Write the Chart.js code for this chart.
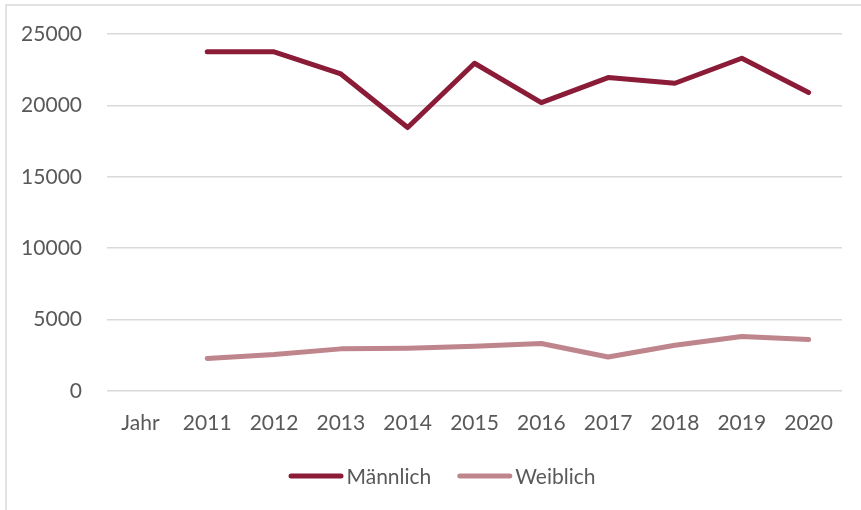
<!DOCTYPE html>
<html>
<head>
<meta charset="utf-8">
<script src="https://cdn.jsdelivr.net/npm/chart.js@4.4.0/dist/chart.umd.min.js"></script>
<style>
  html, body { margin: 0; padding: 0; background: #fff; }
  #wrap { width: 861px; height: 510px; position: relative; }
</style>
</head>
<body>
<div id="wrap"><canvas id="myChart" width="861" height="510"></canvas></div>
<script>
// Kategorien (erste Spalte ist die Kopfzeile "Jahr", ohne Werte)
const labels = ['Jahr', '2011', '2012', '2013', '2014', '2015', '2016', '2017', '2018', '2019', '2020'];
const maennlich = [null, 23750, 23750, 22200, 18450, 22950, 20200, 21950, 21550, 23300, 20900];
const weiblich = [null, 2280, 2560, 2950, 3000, 3130, 3330, 2380, 3200, 3820, 3600];
const yTicks = [0, 5000, 10000, 15000, 20000, 25000];

const FONT = 'Lato, "Open Sans", sans-serif';
const FONT_SIZE = 21;
const textColor = '#595959';
const gridColor = '#d9d9d9';

// Rahmen des Diagrammbereichs
const framePlugin = {
  id: 'frame',
  beforeDraw(chart) {
    const c = chart.ctx;
    c.save();
    c.fillStyle = '#fff';
    c.fillRect(0, 0, chart.width, chart.height);
    c.strokeStyle = gridColor;
    c.lineWidth = 1.5;
    c.strokeRect(6, 5, chart.width + 20, chart.height + 20);
    c.restore();
  }
};

// Legende wie in Excel: Linie + Text dicht daneben
const legendPlugin = {
  id: 'excelLegend',
  afterDraw(chart) {
    const c = chart.ctx;
    const lineLen = 55, gap = 3, itemGap = 26, y = 476;
    c.save();
    c.font = FONT_SIZE + 'px ' + FONT;
    c.textBaseline = 'middle';
    const items = chart.data.datasets.map(ds => ({
      ds, w: lineLen + gap + c.measureText(ds.label).width
    }));
    const total = items.reduce((s, it) => s + it.w, 0) + itemGap * (items.length - 1);
    let x = 442 - total / 2;
    items.forEach(it => {
      c.strokeStyle = it.ds.borderColor;
      c.lineWidth = 5;
      c.lineCap = 'round';
      c.beginPath();
      c.moveTo(x + 2.5, y);
      c.lineTo(x + lineLen - 2.5, y);
      c.stroke();
      c.fillStyle = textColor;
      c.fillText(it.ds.label, x + lineLen + gap, y + 1);
      x += it.w + itemGap;
    });
    c.restore();
  }
};

const ctx = document.getElementById('myChart');

new Chart(ctx, {
  type: 'line',
  data: {
    labels: labels,
    datasets: [
      {
        label: 'Männlich',
        data: maennlich,
        borderColor: '#8a1c38',
        backgroundColor: '#8a1c38',
        borderWidth: 5,
        pointRadius: 0,
        borderCapStyle: 'round',
        borderJoinStyle: 'round',
        tension: 0
      },
      {
        label: 'Weiblich',
        data: weiblich,
        borderColor: '#bf858c',
        backgroundColor: '#bf858c',
        borderWidth: 5,
        pointRadius: 0,
        borderCapStyle: 'round',
        borderJoinStyle: 'round',
        tension: 0
      }
    ]
  },
  options: {
    responsive: false,
    animation: false,
    layout: { padding: { left: 0, right: 19, top: 34, bottom: 0 } },
    plugins: {
      legend: { display: false },
      tooltip: { enabled: false }
    },
    scales: {
      x: {
        offset: true,
        grid: { display: false },
        border: { display: false },
        ticks: {
          color: textColor,
          font: { family: FONT, size: FONT_SIZE },
          padding: 12,
          maxRotation: 0,
          autoSkip: false
        },
        afterFit(scale) {
          scale.height = 119;
          scale.paddingLeft = 0;
          scale.paddingRight = 0;
        }
      },
      y: {
        min: 0,
        max: 25000,
        afterBuildTicks(scale) { scale.ticks = yTicks.map(v => ({ value: v })); },
        grid: { color: gridColor, lineWidth: 1.5, drawTicks: false },
        border: { display: false },
        ticks: {
          color: textColor,
          font: { family: FONT, size: FONT_SIZE },
          padding: 25,
          callback: v => String(v)
        },
        afterFit(scale) {
          scale.width = 107;
          scale.paddingTop = 0;
          scale.paddingBottom = 0;
        }
      }
    }
  },
  plugins: [framePlugin, legendPlugin]
});
</script>
</body>
</html>
